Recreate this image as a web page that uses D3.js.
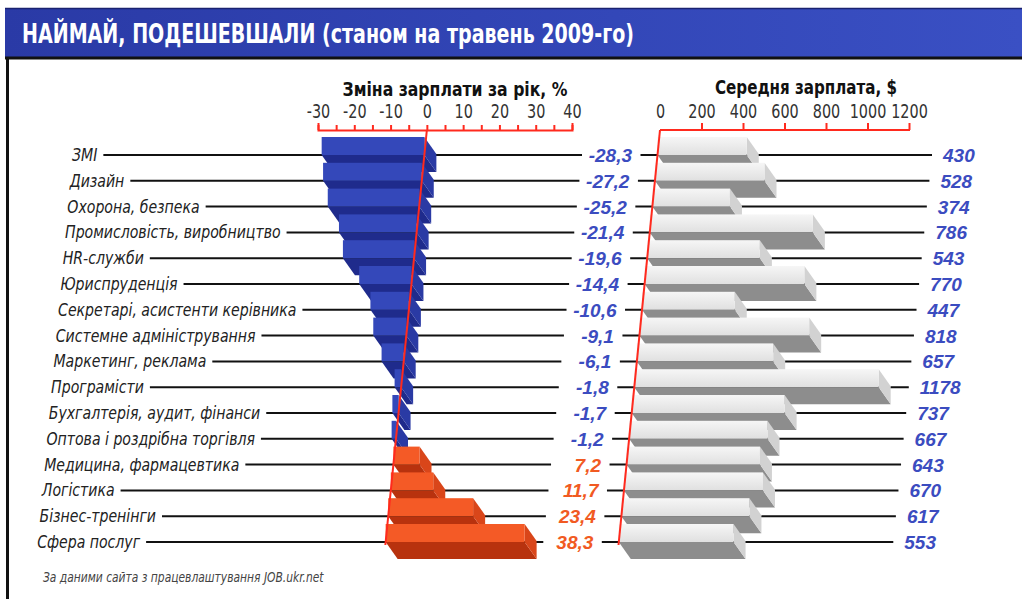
<!DOCTYPE html>
<html>
<head>
<meta charset="utf-8" />
<title>Наймай, подешевшали</title>
<script src="https://cdn.jsdelivr.net/npm/d3@7"></script>
<style>
  body { margin: 0; background: #fff; }
  svg { display: block; }
</style>
</head>
<body>
<svg width="1022" height="599"></svg>
<script>
// data
let categories = ["ЗМІ", "Дизайн", "Охорона, безпека", "Промисловість, виробництво",
  "HR-служби", "Юриспруденція", "Секретарі, асистенти керівника", "Системне адміністрування",
  "Маркетинг, реклама", "Програмісти", "Бухгалтерія, аудит, фінанси", "Оптова і роздрібна торгівля",
  "Медицина, фармацевтика", "Логістика", "Бізнес-тренінги", "Сфера послуг"];
let change = [-28.3, -27.2, -25.2, -21.4, -19.6, -14.4, -10.6, -9.1, -6.1, -1.8, -1.7, -1.2, 7.2, 11.7, 23.4, 38.3];
let salary = [430, 528, 374, 786, 543, 770, 447, 818, 657, 1178, 737, 667, 643, 670, 617, 553];
let changeTicks = [-30, -25, -20, -15, -10, -5, 0, 5, 10, 15, 20, 25, 30, 35, 40];
let salaryTicks = [0, 200, 400, 600, 800, 1000, 1200];

const svg = d3.select("svg");
const narrow = "'Liberation Sans Narrow','Arial Narrow','DejaVu Sans Condensed',sans-serif";
const wide = "'Liberation Sans',Arial,sans-serif";
const red = "#ff2a1e";
const blueText = "#3b4cc0", orangeText = "#f15a22";

// squeeze text sideways, the print uses a condensed face
function condense(sel, f) {
  sel.each(function () {
    const w = this.getComputedTextLength();
    d3.select(this).attr("textLength", w * f).attr("lengthAdjust", "spacingAndGlyphs");
  });
}

const axisY = 130;
const k = 0.1;                       // perspective lean of the whole chart
const shift = y => -k * (y - axisY);

const yScale = d3.scalePoint().domain(categories).range([155, 542]);
const xChange = d3.scaleLinear().domain([-30, 40]).range([318, 572]);
const xSalary = d3.scaleLinear().domain([0, 1200]).range([660, 909]);

const rows = categories.map((c, i) => ({ name: c, ch: change[i], sal: salary[i], y: yScale(c) }));

// ---- header band
const defs = svg.append("defs");
const band = defs.append("linearGradient").attr("id", "band");
band.append("stop").attr("offset", "0%").attr("stop-color", "#2a3aa6");
band.append("stop").attr("offset", "60%").attr("stop-color", "#3347b8");
band.append("stop").attr("offset", "100%").attr("stop-color", "#3a50c4");
const grayFace = defs.append("linearGradient").attr("id", "grayFace")
  .attr("x1", 0).attr("y1", 0).attr("x2", 0).attr("y2", 1);
grayFace.append("stop").attr("offset", "0%").attr("stop-color", "#f6f6f6");
grayFace.append("stop").attr("offset", "100%").attr("stop-color", "#e0e0e0");

svg.append("rect").attr("x", 5).attr("y", 8).attr("width", 1017).attr("height", 49).attr("fill", "url(#band)");
svg.append("line").attr("x1", 5).attr("x2", 1022).attr("y1", 8.5).attr("y2", 8.5).attr("stroke", "#1a2270").attr("stroke-width", 1.5);
svg.append("line").attr("x1", 5).attr("x2", 1022).attr("y1", 58).attr("y2", 58).attr("stroke", "#111").attr("stroke-width", 3);
svg.append("line").attr("x1", 7.5).attr("x2", 7.5).attr("y1", 57).attr("y2", 599).attr("stroke", "#111").attr("stroke-width", 3);

svg.append("text").attr("x", 22).attr("y", 43)
  .attr("textLength", 612).attr("lengthAdjust", "spacingAndGlyphs")
  .style("font", `bold 26px ${narrow}`).attr("fill", "#fff")
  .text("НАЙМАЙ, ПОДЕШЕВШАЛИ (станом на травень 2009-го)");

// ---- axis titles
svg.append("text").attr("x", 455).attr("y", 96).attr("text-anchor", "middle")
  .attr("textLength", 225).attr("lengthAdjust", "spacingAndGlyphs")
  .style("font", `bold 20px ${narrow}`).attr("fill", "#111")
  .text("Зміна зарплати за рік, %");
svg.append("text").attr("x", 806).attr("y", 94).attr("text-anchor", "middle")
  .attr("textLength", 182).attr("lengthAdjust", "spacingAndGlyphs")
  .style("font", `bold 20px ${narrow}`).attr("fill", "#111")
  .text("Середня зарплата, $");

// ---- axes
const axL = svg.append("g").attr("transform", `translate(0,${axisY})`)
  .call(d3.axisTop(xChange).tickValues(changeTicks).tickSize(5).tickSizeOuter(7).tickPadding(7)
    .tickFormat(d => d % 10 === 0 ? d : ""));
axL.select(".domain").attr("stroke", red).attr("stroke-width", 2).attr("fill", "none");
axL.selectAll(".tick line").attr("stroke", red).attr("stroke-width", 2);
axL.selectAll(".tick text").attr("fill", "#333").style("font", `20px ${narrow}`).call(condense, 0.8);

const axR = svg.append("g").attr("transform", `translate(0,${axisY})`)
  .call(d3.axisTop(xSalary).tickValues(salaryTicks).tickSize(7).tickPadding(5).tickFormat(d => d));
axR.select(".domain").remove();
axR.selectAll(".tick line").attr("stroke", red).attr("stroke-width", 2);
axR.selectAll(".tick").filter(d => d === 0).select("line").remove();
axR.selectAll(".tick text").attr("fill", "#333").style("font", `20px ${narrow}`).call(condense, 0.8);
svg.append("line").attr("x1", xSalary(0)).attr("x2", xSalary(1200) + 1)
  .attr("y1", axisY).attr("y2", axisY).attr("stroke", red).attr("stroke-width", 2);

// ---- labels on the left (measured first, lines start after them)
const labelX = y => 72 - 0.09 * (y - 155);
const catLabels = svg.append("g").selectAll("text").data(rows).join("text")
  .attr("x", d => labelX(d.y)).attr("y", d => d.y + 6)
  .style("font", `italic 18px ${narrow}`).attr("fill", "#222")
  .text(d => d.name)
  .call(condense, 0.87);
catLabels.each(function (d) { d.labelEnd = labelX(d.y) + (+this.getAttribute("textLength")); });

const leftAnchor = y => 632 - k * (y - 155);
const rightAnchor = y => 943 - k * (y - 155);

// leader lines, under the bars
const lines = svg.append("g").attr("stroke", "#111").attr("stroke-width", 2);
lines.selectAll(".lead-l").data(rows).join("line").attr("class", "lead-l")
  .attr("x1", d => d.labelEnd + 6).attr("x2", d => leftAnchor(d.y) - 50)
  .attr("y1", d => d.y).attr("y2", d => d.y);
lines.selectAll(".lead-r").data(rows).join("line").attr("class", "lead-r")
  .attr("x1", d => xSalary(0) + shift(d.y) - 17).attr("x2", d => rightAnchor(d.y) - 11)
  .attr("y1", d => d.y).attr("y2", d => d.y);

// ---- 3d bars: front face, bottom face and end face
const h = 18, dx = 12, dy = 17;
function box(g, x0, x1, y, front, bottom, end) {
  g.append("polygon")
    .attr("points", [[x0, y], [x1, y], [x1 + dx, y + dy], [x0 + dx, y + dy]].join(" "))
    .attr("fill", bottom);
  g.append("polygon")
    .attr("points", [[x1, y - h], [x1 + dx, y - h + dy], [x1 + dx, y + dy], [x1, y]].join(" "))
    .attr("fill", end);
  g.append("rect").attr("x", x0).attr("y", y - h).attr("width", x1 - x0).attr("height", h)
    .attr("fill", front);
}

svg.append("g").selectAll("g").data(rows).join("g").each(function (d) {
  const g = d3.select(this);
  const s = shift(d.y);
  const a = xChange(Math.min(0, d.ch)) + s, b = xChange(Math.max(0, d.ch)) + s;
  if (d.ch < 0) box(g, a, b, d.y, "#3448ba", "#1f2b8c", "#2a3aa4");
  else box(g, a, b, d.y, "#f45a26", "#b8320e", "#d9461a");
  box(g, xSalary(0) + s, xSalary(d.sal) + s, d.y, "url(#grayFace)", "#8d8d8d", "#d2d2d2");
});

// ---- leaning zero lines on top
[xChange(0), xSalary(0)].forEach(x0 => {
  svg.append("line").attr("x1", x0).attr("y1", axisY)
    .attr("x2", x0 + shift(545)).attr("y2", 545)
    .attr("stroke", red).attr("stroke-width", 2);
});

// ---- value labels
const fmt = v => String(v).replace(".", ",");
svg.append("g").selectAll("text").data(rows).join("text")
  .attr("x", d => leftAnchor(d.y)).attr("y", d => d.y + 7).attr("text-anchor", "end")
  .style("font", `italic bold 19px ${wide}`)
  .attr("fill", d => d.ch < 0 ? blueText : orangeText)
  .text(d => fmt(d.ch));
svg.append("g").selectAll("text").data(rows).join("text")
  .attr("x", d => rightAnchor(d.y)).attr("y", d => d.y + 7)
  .style("font", `italic bold 19px ${wide}`).attr("fill", blueText)
  .text(d => d.sal);

// ---- source note
svg.append("text").attr("x", 43).attr("y", 582)
  .style("font", `italic 14px ${narrow}`).attr("fill", "#444")
  .text("За даними сайта з працевлаштування JOB.ukr.net")
  .call(condense, 0.85);
</script>
</body>
</html>
